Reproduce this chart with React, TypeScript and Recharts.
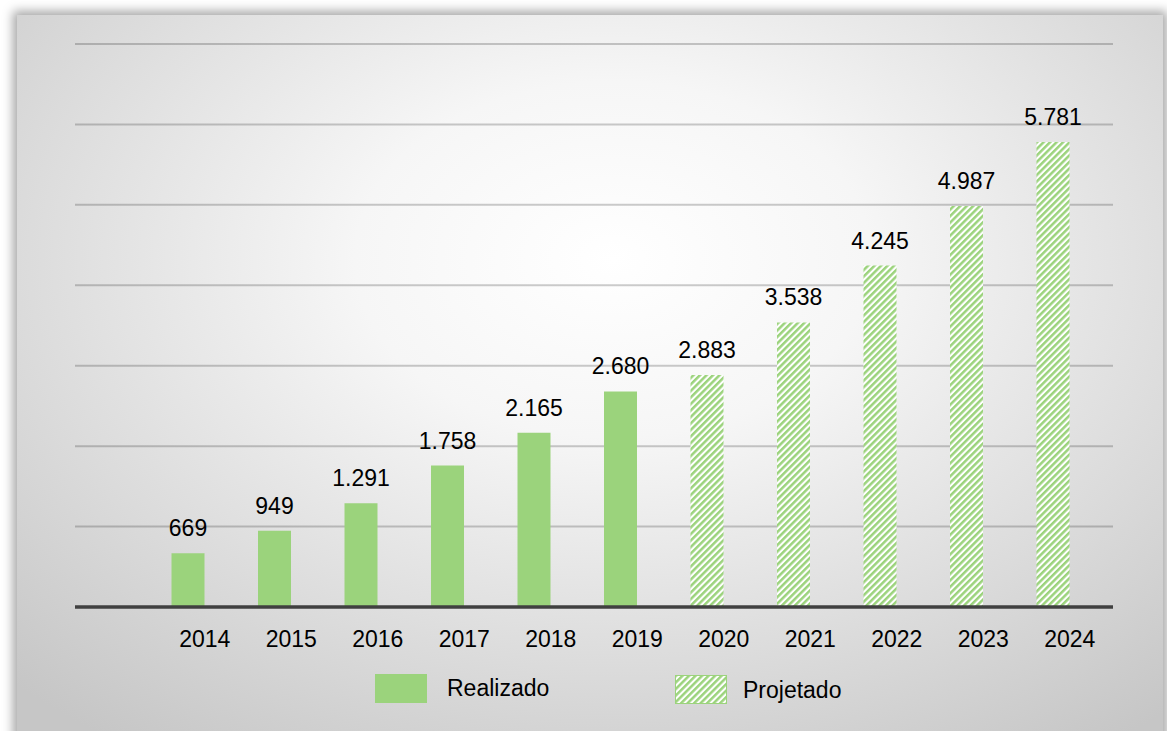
import React from "react";
import { BarChart, Bar, XAxis, YAxis, CartesianGrid, LabelList, Cell } from "recharts";

const anosRealizado = ["2014", "2015", "2016", "2017", "2018", "2019"];
const realizado = [669, 949, 1291, 1758, 2165, 2680];
const anosProjetado = ["2020", "2021", "2022", "2023", "2024"];
const projetado = [2883, 3538, 4245, 4987, 5781];
const yTicks = [0, 1000, 2000, 3000, 4000, 5000, 6000, 7000];

const VERDE = "#9bd37c";
const FONT = "'Liberation Sans', Arial, sans-serif";

// primeira posição fica vazia, como no original
const data = [
  { ano: "", valor: null as number | null, tipo: "", vazio: 0 },
  ...anosRealizado.map((ano, i) => ({ ano, valor: realizado[i], tipo: "real", vazio: 0 })),
  ...anosProjetado.map((ano, i) => ({ ano, valor: projetado[i], tipo: "proj", vazio: 0 })),
];

const fmt = (v: any) =>
  v == null ? "" : String(v).replace(/\B(?=(\d{3})+(?!\d))/g, ".");

export default function App() {
  return (
    <div
      style={{
        position: "absolute",
        left: 0,
        top: 0,
        width: 1167,
        height: 731,
        background: "#fff",
        overflow: "hidden",
        fontFamily: FONT,
      }}
    >
      <svg width={0} height={0} style={{ position: "absolute" }}>
        <defs>
          <pattern
            id="hachura"
            patternUnits="userSpaceOnUse"
            width={4.6}
            height={4.6}
            patternTransform="rotate(45)"
          >
            <rect x={0} y={0} width={4.6} height={4.6} fill="#ffffff" />
            <rect x={0} y={0} width={2.5} height={4.6} fill={VERDE} />
          </pattern>
        </defs>
      </svg>
      <div
        style={{
          position: "absolute",
          left: 17,
          top: 15,
          width: 1146,
          height: 740,
          background:
            "radial-gradient(ellipse 75% 80% at 52% 33%, #ffffff 0%, #f6f6f6 30%, #dedede 65%, #c6c6c6 100%)",
          boxShadow: "0 0 10px 4px rgba(0,0,0,0.35)",
        }}
      />
      <div style={{ position: "absolute", left: 0, top: 0 }}>
        <BarChart
          width={1167}
          height={731}
          data={data}
          margin={{ top: 44, right: 54, left: 75, bottom: 94 }}
          barGap={0}
          barSize={33}
        >
          <CartesianGrid
            vertical={false}
            stroke="#000"
            strokeOpacity={0.2}
            strokeWidth={2}
          />
          <YAxis hide domain={[0, 7000]} ticks={yTicks} />
          <XAxis
            dataKey="ano"
            height={30}
            axisLine={{ stroke: "#404040", strokeWidth: 3.5 }}
            tickLine={false}
            tickSize={0}
            tickMargin={24}
            interval={0}
            tick={{ fill: "#000", fontSize: 23, fontFamily: FONT }}
          />
          <Bar dataKey="valor" isAnimationActive={false}>
            {data.map((d, i) => (
              <Cell key={i} fill={d.tipo === "proj" ? "url(#hachura)" : VERDE} />
            ))}
            <LabelList
              dataKey="valor"
              position="top"
              offset={17}
              formatter={fmt}
              style={{ fill: "#000", fontSize: 23, fontFamily: FONT }}
            />
          </Bar>
          <Bar dataKey="vazio" fill="transparent" isAnimationActive={false} />
        </BarChart>
      </div>
      {/* legenda */}
      <div style={{ position: "absolute", left: 375, top: 674, width: 52, height: 29, background: VERDE }} />
      <div style={{ position: "absolute", left: 447, top: 674, fontSize: 23, lineHeight: "29px", color: "#000" }}>
        Realizado
      </div>
      <svg style={{ position: "absolute", left: 675, top: 675 }} width={52} height={29}>
        <rect x={0.5} y={0.5} width={51} height={28} fill="url(#hachura)" stroke={VERDE} strokeWidth={1} />
      </svg>
      <div style={{ position: "absolute", left: 743, top: 676, fontSize: 23, lineHeight: "29px", color: "#000" }}>
        Projetado
      </div>
    </div>
  );
}
